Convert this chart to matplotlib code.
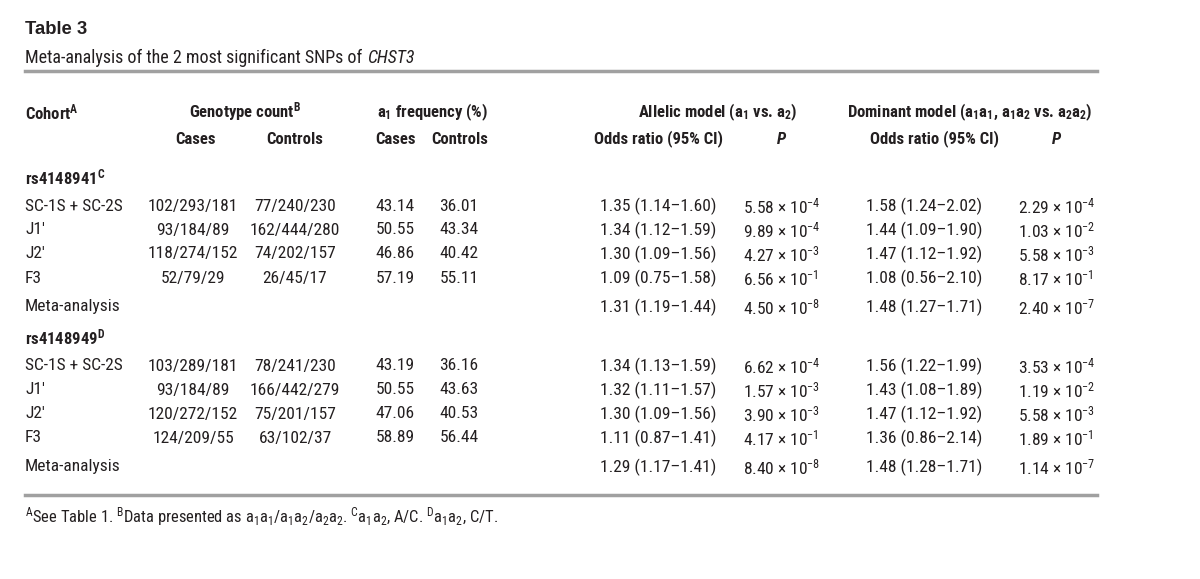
import matplotlib
matplotlib.use('Agg')
from matplotlib import pyplot as plt

cond = 'Roboto Condensed'
plt.rcParams['font.family'] = [cond, 'DejaVu Sans']
plt.rcParams['mathtext.fontset'] = 'custom'
plt.rcParams['mathtext.rm'] = cond
plt.rcParams['mathtext.it'] = cond + ':italic'
plt.rcParams['mathtext.bf'] = cond + ':bold'

# table data
snps = ['rs4148941', 'rs4148949']
snp_notes = ['C', 'D']
cohorts = ['SC-1S + SC-2S', 'J1\u2032', 'J2\u2032', 'F3']

geno_cases = [['102/293/181', '93/184/89', '118/274/152', '52/79/29'],
              ['103/289/181', '93/184/89', '120/272/152', '124/209/55']]
geno_controls = [['77/240/230', '162/444/280', '74/202/157', '26/45/17'],
                 ['78/241/230', '166/442/279', '75/201/157', '63/102/37']]
freq_cases = [[43.14, 50.55, 46.86, 57.19], [43.19, 50.55, 47.06, 58.89]]
freq_controls = [[36.01, 43.34, 40.42, 55.11], [36.16, 43.63, 40.53, 56.44]]

# odds ratios incl. meta-analysis row (last)
allelic_or = [['1.35 (1.14\u20131.60)', '1.34 (1.12\u20131.59)', '1.30 (1.09\u20131.56)',
               '1.09 (0.75\u20131.58)', '1.31 (1.19\u20131.44)'],
              ['1.34 (1.13\u20131.59)', '1.32 (1.11\u20131.57)', '1.30 (1.09\u20131.56)',
               '1.11 (0.87\u20131.41)', '1.29 (1.17\u20131.41)']]
allelic_p = [[(5.58, -4), (9.89, -4), (4.27, -3), (6.56, -1), (4.50, -8)],
             [(6.62, -4), (1.57, -3), (3.90, -3), (4.17, -1), (8.40, -8)]]
dominant_or = [['1.58 (1.24\u20132.02)', '1.44 (1.09\u20131.90)', '1.47 (1.12\u20131.92)',
                '1.08 (0.56\u20132.10)', '1.48 (1.27\u20131.71)'],
               ['1.56 (1.22\u20131.99)', '1.43 (1.08\u20131.89)', '1.47 (1.12\u20131.92)',
                '1.36 (0.86\u20132.14)', '1.48 (1.28\u20131.71)']]
dominant_p = [[(2.29, -4), (1.03, -2), (5.58, -3), (8.17, -1), (2.40, -7)],
              [(3.53, -4), (1.19, -2), (5.58, -3), (1.89, -1), (1.14, -7)]]

W, H = 1200, 579
fig = plt.figure(figsize=(W / 100, H / 100), dpi=100)
ink = '#231f20'
rule = '#a0a0a0'
hsize = 12


def txt(x, y, s, size=12.5, ha='left', weight='normal', style='normal', family=None):
    kw = {}
    if family is not None:
        kw['family'] = family
    return fig.text(x / W, 1 - y / H, s, fontsize=size, ha=ha, va='center',
                    weight=weight, style=style, color=ink, **kw)


def hline(y, lw=2.5):
    fig.add_artist(plt.Line2D([25 / W, 1097 / W], [1 - y / H, 1 - y / H],
                              color=rule, lw=lw, transform=fig.transFigure))


def pval(m, e):
    return '%.2f \u00d7 10$^{%d}$' % (m, e)


# title block
txt(25, 30, 'Table 3', size=13.3, weight='bold', family=['Liberation Sans', 'DejaVu Sans'])
sub = txt(25, 58, 'Meta-analysis of the 2 most significant SNPs of ', size=13)
r = fig.canvas.get_renderer()
x_end = sub.get_window_extent(renderer=r).x1
txt(x_end + 1, 58, 'CHST3', size=13, style='italic')
hline(71)

# header
hy1, hy2 = 112, 139
txt(25, hy1, 'Cohort$^\\mathbf{A}$', size=hsize, weight='bold')
txt(245, hy1, 'Genotype count$^\\mathbf{B}$', size=hsize, ha='center', weight='bold')
txt(433, hy1, 'a$_\\mathbf{1}$ frequency (%)', size=hsize, ha='center', weight='bold')
txt(718, hy1, 'Allelic model (a$_\\mathbf{1}$ vs. a$_\\mathbf{2}$)', size=hsize, ha='center',
    weight='bold')
txt(970, hy1, 'Dominant model (a$_\\mathbf{1}$a$_\\mathbf{1}$, a$_\\mathbf{1}$a$_\\mathbf{2}$ vs. '
              'a$_\\mathbf{2}$a$_\\mathbf{2}$)', size=hsize, ha='center', weight='bold')
txt(195, hy2, 'Cases', size=hsize, ha='center', weight='bold')
txt(295, hy2, 'Controls', size=hsize, ha='center', weight='bold')
txt(395, hy2, 'Cases', size=hsize, ha='center', weight='bold')
txt(460, hy2, 'Controls', size=hsize, ha='center', weight='bold')
txt(658, hy2, 'Odds ratio (95% CI)', size=hsize, ha='center', weight='bold')
txt(782, hy2, 'P', size=hsize, ha='center', weight='bold', style='italic')
txt(934, hy2, 'Odds ratio (95% CI)', size=hsize, ha='center', weight='bold')
txt(1057, hy2, 'P', size=hsize, ha='center', weight='bold', style='italic')

# body
block_y = [177, 337]
for b in range(len(snps)):
    y0 = block_y[b]
    txt(25, y0, snps[b] + '$^\\mathbf{%s}$' % snp_notes[b], size=hsize, weight='bold')
    rows_y = [y0 + 29 + 24 * i for i in range(len(cohorts))] + [y0 + 130]
    for i, yy in enumerate(rows_y):
        if i < len(cohorts):
            txt(25, yy, cohorts[i])
            txt(193, yy, geno_cases[b][i], ha='center')
            txt(295, yy, geno_controls[b][i], ha='center')
            txt(395, yy, '%.2f' % freq_cases[b][i], ha='center')
            txt(459, yy, '%.2f' % freq_controls[b][i], ha='center')
        else:
            txt(25, yy, 'Meta-analysis')
        txt(658, yy, allelic_or[b][i], ha='center')
        txt(743, yy, pval(*allelic_p[b][i]), ha='left')
        txt(924, yy, dominant_or[b][i], ha='center')
        txt(1018, yy, pval(*dominant_p[b][i]), ha='left')

hline(495)
txt(25, 517, '$^\\mathrm{A}$See Table 1. $^\\mathrm{B}$Data presented as '
             'a$_1$a$_1$/a$_1$a$_2$/a$_2$a$_2$. $^\\mathrm{C}$a$_1$a$_2$, A/C. '
             '$^\\mathrm{D}$a$_1$a$_2$, C/T.', size=11.9)

fig.savefig('out.png', dpi=100, facecolor='white')
